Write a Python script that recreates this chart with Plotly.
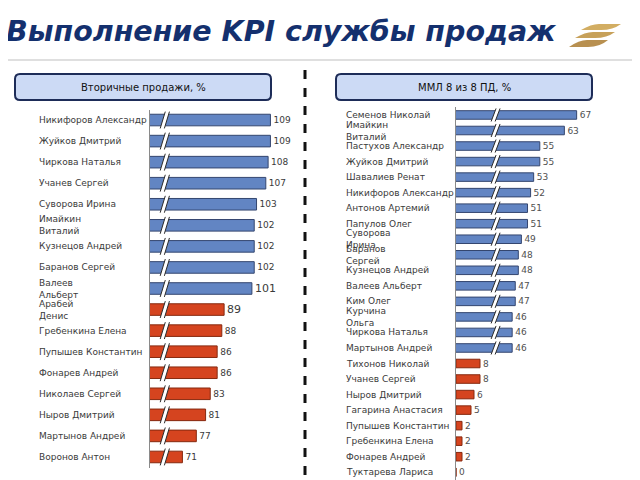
import plotly.graph_objects as go

# ---------------- data ----------------
title_text = "Выполнение KPI службы продаж"
left_title = "Вторичные продажи, %"
right_title = "ММЛ 8 из 8 ПД, %"

left_names = ["Никифоров Александр", "Жуйков Дмитрий", "Чиркова Наталья", "Учанев Сергей",
              "Суворова Ирина", "Имайкин<br>Виталий", "Кузнецов Андрей", "Баранов Сергей",
              "Валеев<br>Альберт", "Арабей<br>Денис", "Гребенкина Елена", "Пупышев Константин",
              "Фонарев Андрей", "Николаев Сергей", "Ныров Дмитрий", "Мартынов Андрей", "Воронов Антон"]
left_values = [109, 109, 108, 107, 103, 102, 102, 102, 101, 89, 88, 86, 86, 83, 81, 77, 71]
left_plan = 100  # bars at/above plan are blue, below are red

right_names = ["Семенов Николай", "Имайкин<br>Виталий", "Пастухов Александр", "Жуйков Дмитрий",
               "Шавалиев Ренат", "Никифоров Александр", "Антонов Артемий", "Папулов Олег",
               "Суворова<br>Ирина", "Баранов<br>Сергей", "Кузнецов Андрей", "Валеев Альберт",
               "Ким Олег", "Курчина<br>Ольга", "Чиркова Наталья", "Мартынов Андрей",
               "Тихонов Николай", "Учанев Сергей", "Ныров Дмитрий", "Гагарина Анастасия",
               "Пупышев Константин", "Гребенкина Елена", "Фонарев Андрей", "Туктарева Лариса"]
right_values = [67, 63, 55, 55, 53, 52, 51, 51, 49, 48, 48, 47, 47, 46, 46, 46, 8, 8, 6, 5, 2, 2, 2, 0]
right_plan = 40

# ---------------- style ----------------
OFF = 8                      # page body margin
W, H = 640 - OFF, 480 - OFF  # figure fits inside the window
BLUE, BLUE_EDGE = "#6285c3", "#34466f"
RED, RED_EDGE = "#d5441f", "#86290f"
NAVY = "#14306e"
LABEL_FONT = dict(family="DejaVu Sans", size=9, color="#3a3a3a")


def px(x):
    return (x - OFF) / W


def py(y):
    return 1 - (y - OFF) / H


fig = go.Figure()

# left chart
left_colors = [BLUE if v >= left_plan else RED for v in left_values]
left_edges = [BLUE_EDGE if v >= left_plan else RED_EDGE for v in left_values]
left_sizes = [11 if name in ("Валеев<br>Альберт", "Арабей<br>Денис") else 9 for name in left_names]
fig.add_trace(go.Bar(
    y=left_names, x=left_values, orientation="h",
    marker=dict(color=left_colors, line=dict(color=left_edges, width=1)),
    text=[str(v) for v in left_values], textposition="outside", constraintext="none",
    textfont=dict(family="DejaVu Sans", size=left_sizes, color="#3a3a3a"),
    cliponaxis=True, xaxis="x", yaxis="y", showlegend=False, hoverinfo="skip"))

# right chart: above-break bars on an offset axis, below-break bars on a zero-based axis
hi_idx = [i for i, v in enumerate(right_values) if v >= right_plan]
lo_idx = [i for i, v in enumerate(right_values) if v < right_plan]
fig.add_trace(go.Bar(
    y=[right_names[i] for i in hi_idx], x=[right_values[i] for i in hi_idx], orientation="h",
    marker=dict(color=BLUE, line=dict(color=BLUE_EDGE, width=1)),
    text=[str(right_values[i]) for i in hi_idx], textposition="outside", constraintext="none",
    textfont=dict(family="DejaVu Sans", size=9, color="#505050"),
    cliponaxis=True, xaxis="x3", yaxis="y2", showlegend=False, hoverinfo="skip"))
fig.add_trace(go.Bar(
    y=[right_names[i] for i in lo_idx], x=[right_values[i] for i in lo_idx], orientation="h",
    marker=dict(color=RED, line=dict(color=RED_EDGE, width=1)),
    text=[str(right_values[i]) for i in lo_idx], textposition="outside", constraintext="none",
    textfont=dict(family="DejaVu Sans", size=9, color="#505050"),
    cliponaxis=False, xaxis="x2", yaxis="y2", showlegend=False, hoverinfo="skip"))

shapes = []
annotations = []


# break marks "//"
def add_breaks(xref, yref, n_idx, xmid, dx, gap, half):
    for i in n_idx:
        a0 = xmid - gap / 2 - dx / 2
        b0 = xmid + gap / 2 - dx / 2
        path = (f"M {a0},{i + half} L {a0 + dx},{i - half} L {b0 + dx},{i - half} "
                f"L {b0},{i + half} Z")
        shapes.append(dict(type="path", path=path, xref=xref, yref=yref,
                           fillcolor="white", line=dict(width=0), layer="above"))
        for s in (a0, b0):
            shapes.append(dict(type="line", x0=s, y0=i + half, x1=s + dx, y1=i - half,
                               xref=xref, yref=yref, line=dict(color="#2b2b2b", width=1),
                               layer="above"))


add_breaks("x", "y", range(len(left_values)), 63.4, 2.2, 1.8, 0.40)
add_breaks("x3", "y2", hi_idx, 40.6, 1.6, 1.3, 0.42)

# category labels (left aligned)
for i, name in enumerate(left_names):
    annotations.append(dict(text=name, x=px(37), xref="paper", xanchor="left", align="left",
                            y=i, yref="y", yanchor="middle", showarrow=False, font=LABEL_FONT))
for i, name in enumerate(right_names):
    annotations.append(dict(text=name, x=px(344), xref="paper", xanchor="left", align="left",
                            y=i, yref="y2", yanchor="middle", showarrow=False, font=LABEL_FONT))

# title
annotations.append(dict(text=f"<b><i>{title_text}</i></b>", x=px(4), y=py(32), xref="paper",
                        yref="paper", xanchor="left", yanchor="middle", showarrow=False,
                        font=dict(family="DejaVu Sans", size=28.5, color=NAVY)))

# header rule
shapes.append(dict(type="line", x0=px(0), x1=px(640), y0=py(60), y1=py(60), xref="paper",
                   yref="paper", line=dict(color="#d4d4d4", width=1.5)))

# logo stripes
for (x0, x1, yt, yb, c) in [(581, 621, 24, 30, "#d2ad62"), (575, 615, 32, 38, "#c7a15a"),
                            (569, 608, 40, 47, "#b89050")]:
    path = (f"M {px(x0)},{py(yb)} Q {px(x0 + 10)},{py(yt)} {px(x0 + 18)},{py(yt)} "
            f"L {px(x1)},{py(yt)} Q {px(x1 - 8)},{py(yb)} {px(x1 - 20)},{py(yb)} Z")
    shapes.append(dict(type="path", path=path, xref="paper", yref="paper",
                       fillcolor=c, line=dict(width=0)))


# rounded header boxes
def rbox(x0, y0, x1, y1, r=5):
    X0, X1, Y0, Y1 = px(x0), px(x1), py(y0), py(y1)
    rx, ry = r / W, r / H
    return (f"M {X0 + rx},{Y0} L {X1 - rx},{Y0} Q {X1},{Y0} {X1},{Y0 - ry} "
            f"L {X1},{Y1 + ry} Q {X1},{Y1} {X1 - rx},{Y1} L {X0 + rx},{Y1} "
            f"Q {X0},{Y1} {X0},{Y1 + ry} L {X0},{Y0 - ry} Q {X0},{Y0} {X0 + rx},{Y0} Z")


for (x0, x1, label) in [(15, 271, left_title), (336, 592, right_title)]:
    shapes.append(dict(type="path", path=rbox(x0, 74, x1, 100), xref="paper", yref="paper",
                       fillcolor="#ccdaf5", line=dict(color="#1d2c58", width=2)))
    annotations.append(dict(text=label, x=px((x0 + x1) / 2), y=py(87), xref="paper", yref="paper",
                            xanchor="center", yanchor="middle", showarrow=False,
                            font=dict(family="DejaVu Sans", size=10, color="#111111")))

# dashed separator
shapes.append(dict(type="line", x0=px(305), x1=px(305), y0=py(70), y1=py(480), xref="paper",
                   yref="paper", line=dict(color="#111111", width=3, dash="9px,9px")))

axis_common = dict(showgrid=False, zeroline=False, showticklabels=False, ticks="")
fig.update_layout(
    width=W, height=H, margin=dict(l=0, r=0, t=0, b=0),
    paper_bgcolor="white", plot_bgcolor="rgba(0,0,0,0)",
    barmode="overlay", bargap=0.45,
    xaxis=dict(domain=[px(150), px(300)], range=[57, 57 + 150 / 2.316], anchor="y",
               visible=False),
    yaxis=dict(domain=[py(467.5), py(109.5)], anchor="x", type="category",
               categoryorder="array", categoryarray=left_names,
               range=[len(left_names) - 0.5, -0.5], showline=True, linecolor="#8a8a8a",
               linewidth=1, **axis_common),
    xaxis2=dict(domain=[px(456), px(605)], range=[0, 149 / 3.0], anchor="y2", visible=False),
    xaxis3=dict(domain=[px(456), px(605)], range=[27.7, 27.7 + 149 / 3.07], anchor="y2",
                overlaying="x2", visible=False),
    yaxis2=dict(domain=[0, py(107.2)], anchor="x2", type="category",
                categoryorder="array", categoryarray=right_names,
                range=[len(right_names) - 0.5, -0.5], showline=True, linecolor="#8a8a8a",
                linewidth=1, **axis_common),
    shapes=shapes, annotations=annotations,
)

fig.write_html("out.html")
